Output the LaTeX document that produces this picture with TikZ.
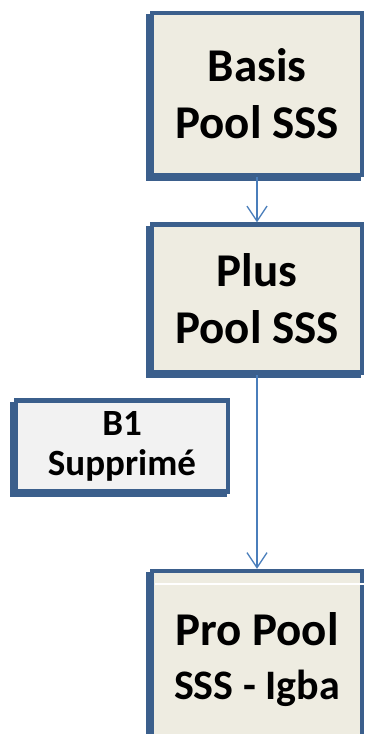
\documentclass[tikz,border=0pt]{standalone}
\usepackage{fontspec}
\setmainfont{Carlito}
\usetikzlibrary{arrows.meta, shadows}

\definecolor{boxblue}{HTML}{3B5F8C}
\definecolor{boxtan}{HTML}{EEECE1}
\definecolor{boxgray}{HTML}{F2F2F2}
\definecolor{linkblue}{HTML}{4A7EBB}

\tikzset{
  poolbox/.style={draw=boxblue, line width=4.5pt, fill=boxtan, inner sep=0pt, align=center,
    general shadow={fill=boxblue, draw=boxblue, line width=4.5pt, shadow xshift=-3.5pt, shadow yshift=-3.5pt}},
  link/.style={draw=linkblue, line width=1.3pt, -{Straight Barb[length=15pt,width=20pt,line width=1.3pt]}}
}

\begin{document}
\begin{tikzpicture}[x=1pt,y=1pt]
	\useasboundingbox (0,0) rectangle (365,-734);
	\clip (0,0) rectangle (365,-734);

	
	\node[poolbox, minimum width=210pt, minimum height=162pt,
	      font=\bfseries\fontsize{47}{57}\selectfont] (basis) at (257,-94) {Basis\\Pool SSS};
	\node[poolbox, minimum width=210pt, minimum height=148pt,
	      font=\bfseries\fontsize{47}{57}\selectfont] (plus) at (257,-298.5) {Plus\\Pool SSS};
	
	
	\node[poolbox, fill=boxgray, minimum width=212pt, minimum height=91pt,
	      font=\bfseries\fontsize{37}{40}\selectfont] (b1) at (122,-446) {B1\\Supprimé};
	
	
	\node[poolbox, minimum width=210pt, minimum height=178pt,
	      font=\bfseries\fontsize{47}{54}\selectfont] (pro) at (257,-660)
	      {Pro Pool\\{\fontsize{42}{54}\selectfont SSS - Igba}};
	\draw[white, line width=1.5pt] (155,-584) -- (365,-584);
	
	
	\draw[link] (basis.south) -- (plus.north);
	\draw[link] (plus.south) -- (pro.north);
\end{tikzpicture}
\end{document}
